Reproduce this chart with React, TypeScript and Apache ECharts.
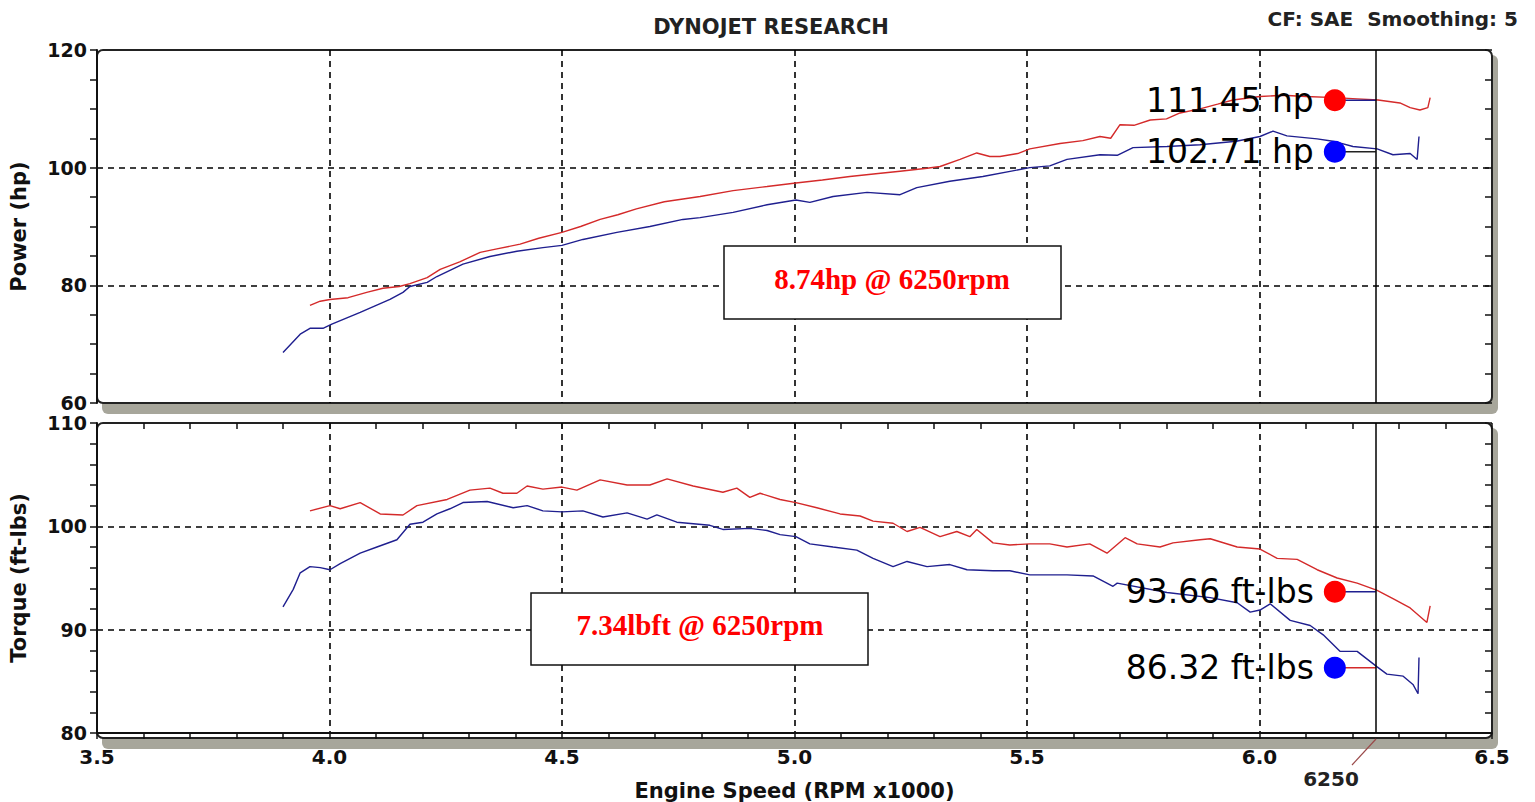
import React, { useEffect, useRef } from "react";
import * as echarts from "echarts";

// ---- data (RPM x1000, value) ----
const powerRed: [number, number][] = [
  [3.958, 76.6], [3.98, 77.3], [4.001, 77.6], [4.04, 77.9], [4.08, 78.8], [4.115, 79.5],
  [4.15, 79.8], [4.173, 80.3], [4.21, 81.3], [4.238, 82.7], [4.28, 84.0], [4.324, 85.6],
  [4.36, 86.2], [4.41, 87.0], [4.45, 88.0], [4.5, 89.0], [4.54, 90.0], [4.582, 91.2],
  [4.62, 92.0], [4.66, 93.0], [4.72, 94.2], [4.797, 95.1], [4.868, 96.1], [4.941, 96.8],
  [5.003, 97.4], [5.06, 97.9], [5.119, 98.5], [5.18, 99.0], [5.227, 99.4], [5.285, 99.9],
  [5.313, 100.2], [5.356, 101.4], [5.392, 102.5], [5.42, 101.9], [5.442, 101.9], [5.48, 102.4],
  [5.506, 103.2], [5.571, 104.1], [5.62, 104.6], [5.657, 105.3], [5.68, 105.0], [5.7, 107.3],
  [5.73, 107.2], [5.765, 108.1], [5.8, 108.3], [5.829, 109.3], [5.872, 110.0], [5.91, 110.8],
  [5.943, 111.5], [6.001, 112.1], [6.05, 112.3], [6.1, 112.1], [6.162, 111.9], [6.21, 111.7],
  [6.255, 111.5], [6.302, 111.0], [6.324, 110.2], [6.345, 109.8], [6.362, 110.2], [6.367, 111.9],
];
const powerBlue: [number, number][] = [
  [3.9, 68.6], [3.937, 71.7], [3.958, 72.7], [3.986, 72.7], [4.005, 73.4], [4.066, 75.4],
  [4.13, 77.6], [4.158, 78.8], [4.173, 79.8], [4.21, 80.5], [4.231, 81.5], [4.287, 83.6],
  [4.345, 84.9], [4.403, 85.8], [4.459, 86.4], [4.5, 86.8], [4.545, 87.8], [4.618, 89.0],
  [4.689, 90.0], [4.76, 91.2], [4.797, 91.5], [4.868, 92.4], [4.941, 93.7], [5.003, 94.5],
  [5.033, 94.1], [5.083, 95.1], [5.156, 95.8], [5.227, 95.4], [5.263, 96.6], [5.334, 97.7],
  [5.405, 98.5], [5.506, 100.0], [5.549, 100.3], [5.586, 101.4], [5.657, 102.2], [5.694, 102.1],
  [5.728, 103.4], [5.801, 103.6], [5.872, 103.9], [5.95, 104.5], [6.001, 105.3], [6.029, 106.2],
  [6.059, 105.4], [6.124, 104.9], [6.158, 104.5], [6.201, 103.6], [6.253, 103.2], [6.287, 102.2],
  [6.324, 102.4], [6.339, 101.4], [6.343, 105.3],
];
const torqueRed: [number, number][] = [
  [3.958, 101.5], [4.001, 102.0], [4.023, 101.7], [4.066, 102.3], [4.109, 101.2], [4.158, 101.1],
  [4.188, 102.0], [4.253, 102.6], [4.302, 103.5], [4.345, 103.7], [4.373, 103.2], [4.403, 103.2],
  [4.425, 103.9], [4.459, 103.6], [4.5, 103.8], [4.532, 103.5], [4.582, 104.5], [4.64, 104.0],
  [4.689, 104.0], [4.726, 104.6], [4.782, 103.9], [4.846, 103.3], [4.876, 103.7], [4.904, 102.8],
  [4.926, 103.2], [4.969, 102.6], [5.003, 102.3], [5.048, 101.8], [5.098, 101.2], [5.141, 101.0],
  [5.169, 100.5], [5.212, 100.3], [5.242, 99.5], [5.27, 99.9], [5.313, 99.0], [5.349, 99.5],
  [5.377, 99.0], [5.392, 99.7], [5.427, 98.4], [5.463, 98.2], [5.506, 98.3], [5.549, 98.3],
  [5.586, 98.0], [5.635, 98.3], [5.672, 97.4], [5.711, 98.9], [5.737, 98.3], [5.786, 98.0],
  [5.814, 98.4], [5.872, 98.7], [5.894, 98.8], [5.952, 98.0], [6.001, 97.8], [6.038, 96.9],
  [6.081, 96.8], [6.124, 95.8], [6.167, 95.0], [6.21, 94.5], [6.253, 93.8], [6.287, 93.0],
  [6.324, 92.1], [6.36, 90.7], [6.367, 92.3],
];
const torqueBlue: [number, number][] = [
  [3.9, 92.2], [3.922, 93.9], [3.937, 95.5], [3.958, 96.1], [3.98, 96.0], [4.001, 95.8],
  [4.023, 96.4], [4.066, 97.4], [4.102, 98.0], [4.145, 98.7], [4.173, 100.2], [4.201, 100.4],
  [4.231, 101.2], [4.259, 101.7], [4.287, 102.3], [4.339, 102.4], [4.395, 101.8], [4.425, 102.0],
  [4.459, 101.5], [4.5, 101.4], [4.545, 101.5], [4.588, 100.9], [4.64, 101.3], [4.683, 100.7],
  [4.704, 101.1], [4.747, 100.4], [4.818, 100.1], [4.846, 99.7], [4.904, 99.8], [4.941, 99.6],
  [4.969, 99.2], [5.003, 99.0], [5.033, 98.3], [5.083, 98.0], [5.134, 97.7], [5.169, 96.9],
  [5.212, 96.1], [5.242, 96.6], [5.285, 96.1], [5.334, 96.3], [5.371, 95.8], [5.427, 95.7],
  [5.463, 95.7], [5.506, 95.3], [5.586, 95.3], [5.642, 95.2], [5.685, 94.2], [5.694, 94.5],
  [5.801, 93.6], [5.894, 93.1], [5.952, 92.6], [5.98, 91.7], [6.001, 91.9], [6.023, 92.5],
  [6.066, 90.9], [6.109, 90.4], [6.137, 89.5], [6.173, 87.9], [6.21, 87.9], [6.253, 86.4],
  [6.274, 85.7], [6.309, 85.5], [6.33, 84.7], [6.341, 83.8], [6.343, 87.3],
];

const cursorRpm = 6.25;
const markerRpm = 6.162;
const powerReadings = [111.45, 102.71];
const torqueReadings = [93.66, 86.32];
const powerLabels = ["111.45 hp", "102.71 hp"];
const torqueLabels = ["93.66 ft-lbs", "86.32 ft-lbs"];
const xTicks = { min: 3.5, max: 6.5, interval: 0.5 };
const powerTicks = { min: 60, max: 120, interval: 20 };
const torqueTicks = { min: 80, max: 110, interval: 10 };

const RED = "#d42a2a";
const BLUE = "#1f1f8f";
const DOT_RED = "#ff0000";
const DOT_BLUE = "#0000ff";

export default function App() {
  const ref = useRef<HTMLDivElement>(null);
  useEffect(() => {
    if (!ref.current) return;
    const chart = echarts.init(ref.current, undefined, { renderer: "svg" });
    const bold = "DejaVu Sans";
    const dash = { color: "#000", type: [6, 5] as any, width: 1.6 };

    const g1 = { left: 97, top: 50, width: 1395, height: 353 };
    const g2 = { left: 97, top: 423, width: 1395, height: 315 };

    const panel = (g: any) => [
      {
        type: "rect", z: -20, silent: true,
        shape: { x: g.left + 5, y: g.top + 5, width: g.width + 1, height: g.height + 6, r: 6 },
        style: { fill: "#a7a69b" },
      },
      {
        type: "rect", z: -10, silent: true,
        shape: { x: g.left, y: g.top, width: g.width, height: g.height, r: 6 },
        style: { fill: "#fff", stroke: "#222", lineWidth: 2 },
      },
    ];

    const yAxisMain = (gi: number, t: any, name: string, minorSplit: number) => ({
      type: "value", gridIndex: gi, min: t.min, max: t.max, interval: t.interval,
      name, nameLocation: "middle", nameGap: 68, nameRotate: 90,
      nameTextStyle: { fontFamily: bold, fontWeight: "bold", fontSize: 21, color: "#111" },
      axisLine: { show: true, lineStyle: { color: "#111", width: 2 } },
      axisTick: { show: true, length: 7, lineStyle: { color: "#111", width: 1.5 } },
      minorTick: { show: true, splitNumber: minorSplit, length: 7, lineStyle: { color: "#111", width: 1.5 } },
      axisLabel: { fontFamily: bold, fontWeight: "bold", fontSize: 19, lineHeight: 14, color: "#111", margin: 10 },
      splitLine: { show: true, showMinLine: false, showMaxLine: false, lineStyle: dash },
    });
    const yAxisInside = (gi: number, t: any, minorSplit: number) => ({
      type: "value", gridIndex: gi, min: t.min, max: t.max, interval: t.interval,
      axisLine: { show: false },
      axisTick: { show: true, inside: true, length: 7, lineStyle: { color: "#111", width: 1.5 } },
      minorTick: { show: true, splitNumber: minorSplit, length: 7, lineStyle: { color: "#111", width: 1.5 } },
      axisLabel: { show: false },
      splitLine: { show: false },
    });

    const dot = (xi: number, yi: number, v: number, color: string, label: string) => ({
      type: "scatter", xAxisIndex: xi, yAxisIndex: yi, z: 10,
      data: [[markerRpm, v]], symbolSize: 22,
      itemStyle: { color, opacity: 1 },
      label: {
        show: true, position: "left", distance: 10, formatter: label,
        fontFamily: "DejaVu Sans", fontSize: 33, color: "#000", opacity: 1,
      },
    });
    const connector = (xi: number, yi: number, v: number, color: string) => ({
      type: "line", xAxisIndex: xi, yAxisIndex: yi, z: 4, showSymbol: false, silent: true,
      data: [[markerRpm, v], [cursorRpm, v]], lineStyle: { color, width: 1.5 },
    });
    const curve = (xi: number, yi: number, data: any, color: string, withCursor: boolean) => ({
      type: "line", xAxisIndex: xi, yAxisIndex: yi, data, showSymbol: false, z: 3,
      lineStyle: { color, width: 1.4 },
      markLine: withCursor
        ? {
            silent: true, symbol: "none", label: { show: false },
            lineStyle: { color: "#000", type: "solid", width: 1.5 },
            data: [{ xAxis: cursorRpm }],
          }
        : undefined,
    });

    chart.setOption({
      animation: false,
      backgroundColor: "#fff",
      grid: [g1, g2],
      xAxis: [
        {
          type: "value", gridIndex: 0, ...xTicks,
          axisLine: { show: false }, axisTick: { show: false }, axisLabel: { show: false },
          splitLine: { show: true, showMinLine: false, showMaxLine: false, lineStyle: dash },
        },
        {
          type: "value", gridIndex: 1, ...xTicks,
          name: "Engine Speed (RPM x1000)", nameLocation: "middle", nameGap: 47,
          nameTextStyle: { fontFamily: bold, fontWeight: "bold", fontSize: 21, color: "#111" },
          axisLine: { show: true, lineStyle: { color: "#111", width: 2 } },
          axisTick: { show: true, length: 6, lineStyle: { color: "#111", width: 1.5 } },
          minorTick: { show: true, splitNumber: 5, length: 6, lineStyle: { color: "#111", width: 1.5 } },
          axisLabel: {
            fontFamily: bold, fontWeight: "bold", fontSize: 20, color: "#111", margin: 14,
            formatter: (v: number) => v.toFixed(1),
          },
          splitLine: { show: true, showMinLine: false, showMaxLine: false, lineStyle: dash },
        },
        {
          type: "value", gridIndex: 1, ...xTicks,
          axisLine: { show: false },
          axisTick: { show: true, inside: true, length: 6, lineStyle: { color: "#111", width: 1.5 } },
          minorTick: { show: true, splitNumber: 5, length: 6, lineStyle: { color: "#111", width: 1.5 } },
          axisLabel: { show: false }, splitLine: { show: false },
        },
      ],
      yAxis: [
        yAxisMain(0, powerTicks, "Power (hp)", 4),
        yAxisInside(0, powerTicks, 4),
        yAxisMain(1, torqueTicks, "Torque (ft-lbs)", 5),
        yAxisInside(1, torqueTicks, 5),
      ],
      series: [
        curve(0, 0, powerRed, RED, true),
        curve(0, 0, powerBlue, BLUE, false),
        curve(1, 2, torqueRed, RED, true),
        curve(1, 2, torqueBlue, BLUE, false),
        connector(0, 0, powerReadings[0], BLUE),
        connector(0, 0, powerReadings[1], "#222"),
        connector(1, 2, torqueReadings[0], BLUE),
        connector(1, 2, torqueReadings[1], RED),
        dot(0, 0, powerReadings[0], DOT_RED, powerLabels[0]),
        dot(0, 0, powerReadings[1], DOT_BLUE, powerLabels[1]),
        dot(1, 2, torqueReadings[0], DOT_RED, torqueLabels[0]),
        dot(1, 2, torqueReadings[1], DOT_BLUE, torqueLabels[1]),
      ],
      graphic: {
        elements: [
          ...panel(g1),
          ...panel(g2),
          {
            type: "text", x: 771, y: 27, z: 5,
            style: { text: "DYNOJET RESEARCH", fontFamily: bold, fontWeight: "bold", fontSize: 21, fill: "#222", align: "center", verticalAlign: "middle" },
          },
          {
            type: "text", x: 1518, y: 19, z: 5,
            style: { text: "CF: SAE  Smoothing: 5", fontFamily: bold, fontWeight: "bold", fontSize: 20, fill: "#222", align: "right", verticalAlign: "middle" },
          },
          {
            type: "rect", z: 20,
            shape: { x: 724, y: 246, width: 337, height: 73 },
            style: { fill: "#fff", stroke: "#111", lineWidth: 1.5 },
          },
          {
            type: "text", x: 892, y: 279, z: 21,
            style: { text: "8.74hp @ 6250rpm", fontFamily: "Liberation Serif", fontWeight: "bold", fontSize: 29, fill: "#ff0000", align: "center", verticalAlign: "middle" },
          },
          {
            type: "rect", z: 20,
            shape: { x: 531, y: 593, width: 337, height: 72 },
            style: { fill: "#fff", stroke: "#111", lineWidth: 1.5 },
          },
          {
            type: "text", x: 700, y: 625, z: 21,
            style: { text: "7.34lbft @ 6250rpm", fontFamily: "Liberation Serif", fontWeight: "bold", fontSize: 29, fill: "#ff0000", align: "center", verticalAlign: "middle" },
          },
          {
            type: "line", z: 5,
            shape: { x1: 1376, y1: 739, x2: 1352, y2: 765 },
            style: { stroke: "#9a4a4a", lineWidth: 1.2 },
          },
          {
            type: "text", x: 1331, y: 779, z: 5,
            style: { text: "6250", fontFamily: bold, fontWeight: "bold", fontSize: 20, fill: "#222", align: "center", verticalAlign: "middle" },
          },
        ],
      },
    });
    return () => chart.dispose();
  }, []);
  return (
    <div
      ref={ref}
      style={{ position: "fixed", left: 0, top: 0, width: 1535, height: 802, background: "#fff" }}
    />
  );
}
